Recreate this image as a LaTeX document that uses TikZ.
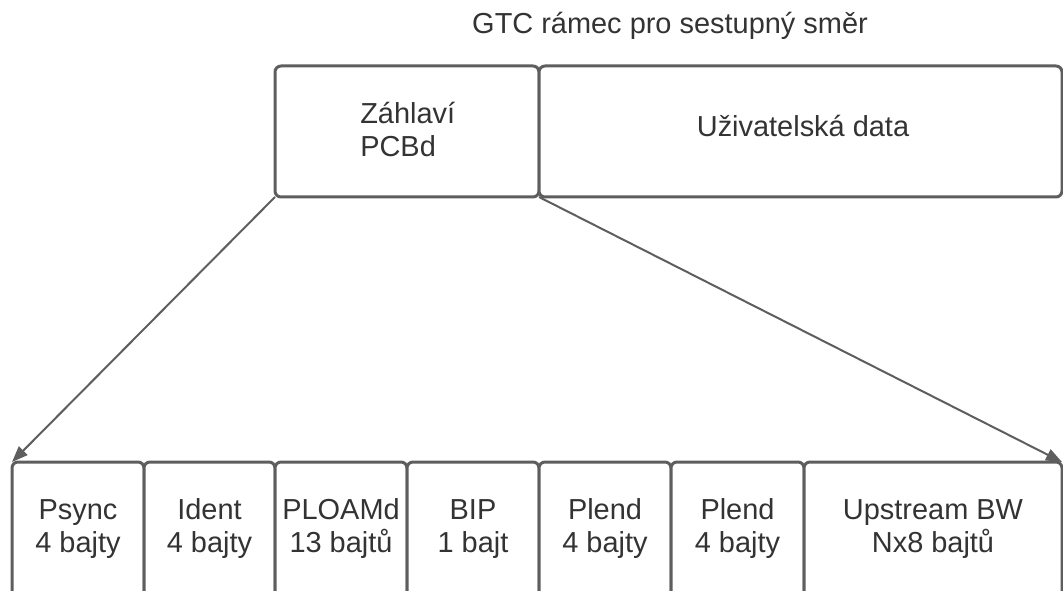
\documentclass[tikz,border=0pt]{standalone}
\usepackage{fontspec}
\setmainfont{Liberation Sans}
\usetikzlibrary{arrows.meta}
\definecolor{ln}{HTML}{5E5E5E}
\definecolor{tx}{HTML}{333333}
\newcommand\twol[2]{\rule{0pt}{0.9em}#1\\#2\rule[-0.9em]{0pt}{0.9em}}
\begin{document}
\begin{tikzpicture}[x=0.75pt,y=-0.75pt,
  box/.style={draw=ln, line width=2.25pt, rounded corners=4.5pt, rectangle, inner sep=0pt, outer sep=0pt, fill=white},
  lbl/.style={text=tx, font=\fontsize{21.7pt}{25pt}\selectfont, inner sep=0pt},
  conn/.style={draw=ln, line width=1.5pt, -{Triangle[length=12pt,width=9pt]}}]
\useasboundingbox (0,0) rectangle (1063,591);
\clip (0,0) rectangle (1063,591);
% top
\node[lbl, anchor=base] (title) at (670,33.5) {GTC rámec pro sestupný směr};
\node[box, anchor=north west, minimum width=264*0.75pt, minimum height=131*0.75pt] (hdr) at (275,66) {};
\node[box, anchor=north west, minimum width=523*0.75pt, minimum height=131*0.75pt] (data) at (539,66) {};
\node[lbl, align=left, anchor=west] (hdrt) at (360,140) {\twol{Záhlaví}{PCBd}};
\node[lbl, anchor=base] (datat) at (803,136.7) {Uživatelská data};
% bottom
\node[box, anchor=north west, minimum width=132*0.75pt, minimum height=140*0.75pt] (b1) at (12,462) {};
\node[box, anchor=north west, minimum width=131*0.75pt, minimum height=140*0.75pt] (b2) at (144,462) {};
\node[box, anchor=north west, minimum width=132*0.75pt, minimum height=140*0.75pt] (b3) at (275,462) {};
\node[box, anchor=north west, minimum width=132*0.75pt, minimum height=140*0.75pt] (b4) at (407,462) {};
\node[box, anchor=north west, minimum width=132*0.75pt, minimum height=140*0.75pt] (b5) at (539,462) {};
\node[box, anchor=north west, minimum width=133*0.75pt, minimum height=140*0.75pt] (b6) at (671,462) {};
\node[box, anchor=north west, minimum width=258*0.75pt, minimum height=140*0.75pt] (b7) at (804,462) {};
\node[lbl, align=center] (t1) at (78,535.7) {\twol{Psync}{4 bajty}};
\node[lbl, align=center] (t2) at (209.5,535.7) {\twol{Ident}{4 bajty}};
\node[lbl, align=center] (t3) at (341,535.7) {\twol{PLOAMd}{13 bajtů}};
\node[lbl, align=center] (t4) at (473,535.7) {\twol{BIP}{1 bajt}};
\node[lbl, align=center] (t5) at (605,535.7) {\twol{Plend}{4 bajty}};
\node[lbl, align=center] (t6) at (737.5,535.7) {\twol{Plend}{4 bajty}};
\node[lbl, align=center] (t7) at (933,535.7) {\twol{Upstream BW}{Nx8 bajtů}};
% connectors
\draw[conn] (hdr.south west) -- (b1.north west);
\draw[conn] (hdr.south east) -- (b7.north east);
\end{tikzpicture}
\end{document}
